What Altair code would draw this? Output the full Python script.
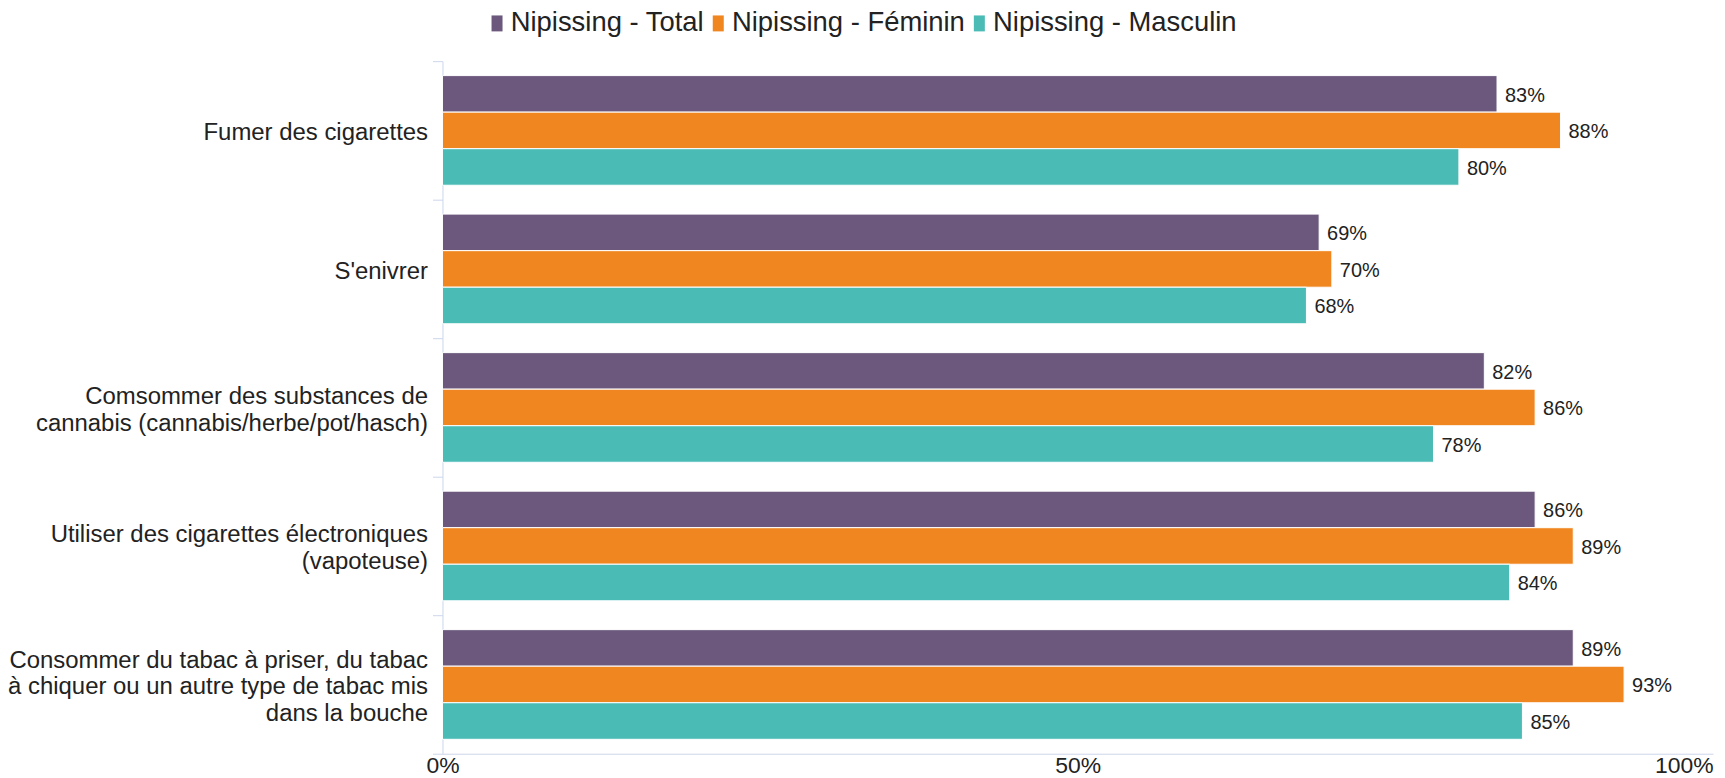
import altair as alt
import pandas as pd

categories = [
    "Fumer des cigarettes",
    "S'enivrer",
    "Comsommer des substances de\ncannabis (cannabis/herbe/pot/hasch)",
    "Utiliser des cigarettes électroniques\n(vapoteuse)",
    "Consommer du tabac à priser, du tabac\nà chiquer ou un autre type de tabac mis\ndans la bouche",
]
series = ["Nipissing - Total", "Nipissing - Féminin", "Nipissing - Masculin"]
total = [83, 69, 82, 86, 89]
feminin = [88, 70, 86, 89, 93]
masculin = [80, 68, 78, 84, 85]
colors = ["#6B587C", "#F0861F", "#4BBBB5"]
x_ticks = [0, 0.5, 1]

rows = []
for s, vals in zip(series, [total, feminin, masculin]):
    for c, v in zip(categories, vals):
        rows.append({"cat": c, "series": s, "value": v / 100})
df = pd.DataFrame(rows)

FONT = "Liberation Sans"
AXIS_COL = "#ccd6eb"

base = alt.Chart(df).encode(
    y=alt.Y(
        "cat:N",
        sort=categories,
        scale=alt.Scale(paddingInner=0, paddingOuter=0),
        axis=alt.Axis(
            title=None,
            tickBand="extent",
            labelExpr="split(datum.label, '\\n')",
            labelFont=FONT,
            labelFontSize=24,
            labelLineHeight=27,
            labelColor="#222222",
            labelLimit=600,
            labelPadding=5,
            labelOffset={"expr": "2.5 - (length(split(datum.label, '\\n')) - 1) * 13.5"},
            tickSize=10,
            tickColor=AXIS_COL,
            domainColor=AXIS_COL,
        ),
    ),
    yOffset=alt.YOffset(
        "series:N", sort=series, scale=alt.Scale(paddingOuter=0.395, paddingInner=0)
    ),
    x=alt.X(
        "value:Q",
        scale=alt.Scale(domain=[0, 1], nice=False),
        axis=alt.Axis(
            title=None,
            values=x_ticks,
            format=".0%",
            grid=False,
            ticks=False,
            domainColor=AXIS_COL,
            labelFont=FONT,
            labelFontSize=23,
            labelColor="#222222",
            labelPadding=1,
            labelAlign={"expr": "datum.value >= 1 ? 'right' : 'center'"},
        ),
    ),
)

bars = base.mark_bar(stroke="white", strokeWidth=1).encode(
    color=alt.Color(
        "series:N",
        sort=series,
        scale=alt.Scale(domain=series, range=colors),
        legend=alt.Legend(
            orient="none",
            legendX=41,
            legendY=-52,
            direction="horizontal",
            title=None,
            symbolType="M-0.69,-1H0.69V1H-0.69Z",
            symbolSize=256,
            symbolStrokeWidth=0,
            symbolOpacity=1,
            labelFont=FONT,
            labelFontSize=27.5,
            labelColor="#222222",
            labelLimit=600,
            labelOffset=0,
            columnPadding=0,
            padding=0,
        ),
    )
)

labels = base.mark_text(
    align="left", baseline="middle", dx=8, dy=2, font=FONT, fontSize=20, color="#222222"
).encode(text=alt.Text("value:Q", format=".0%"))

chart = (
    alt.layer(bars, labels)
    .properties(
        width=1275,
        height=695,
        autosize=alt.AutoSizeParams(type="none"),
        padding={"left": 436, "top": 52, "right": 4, "bottom": 23},
    )
    .configure_view(stroke=None)
)

chart.save("out.html", embed_options={"renderer": "svg", "actions": False})
